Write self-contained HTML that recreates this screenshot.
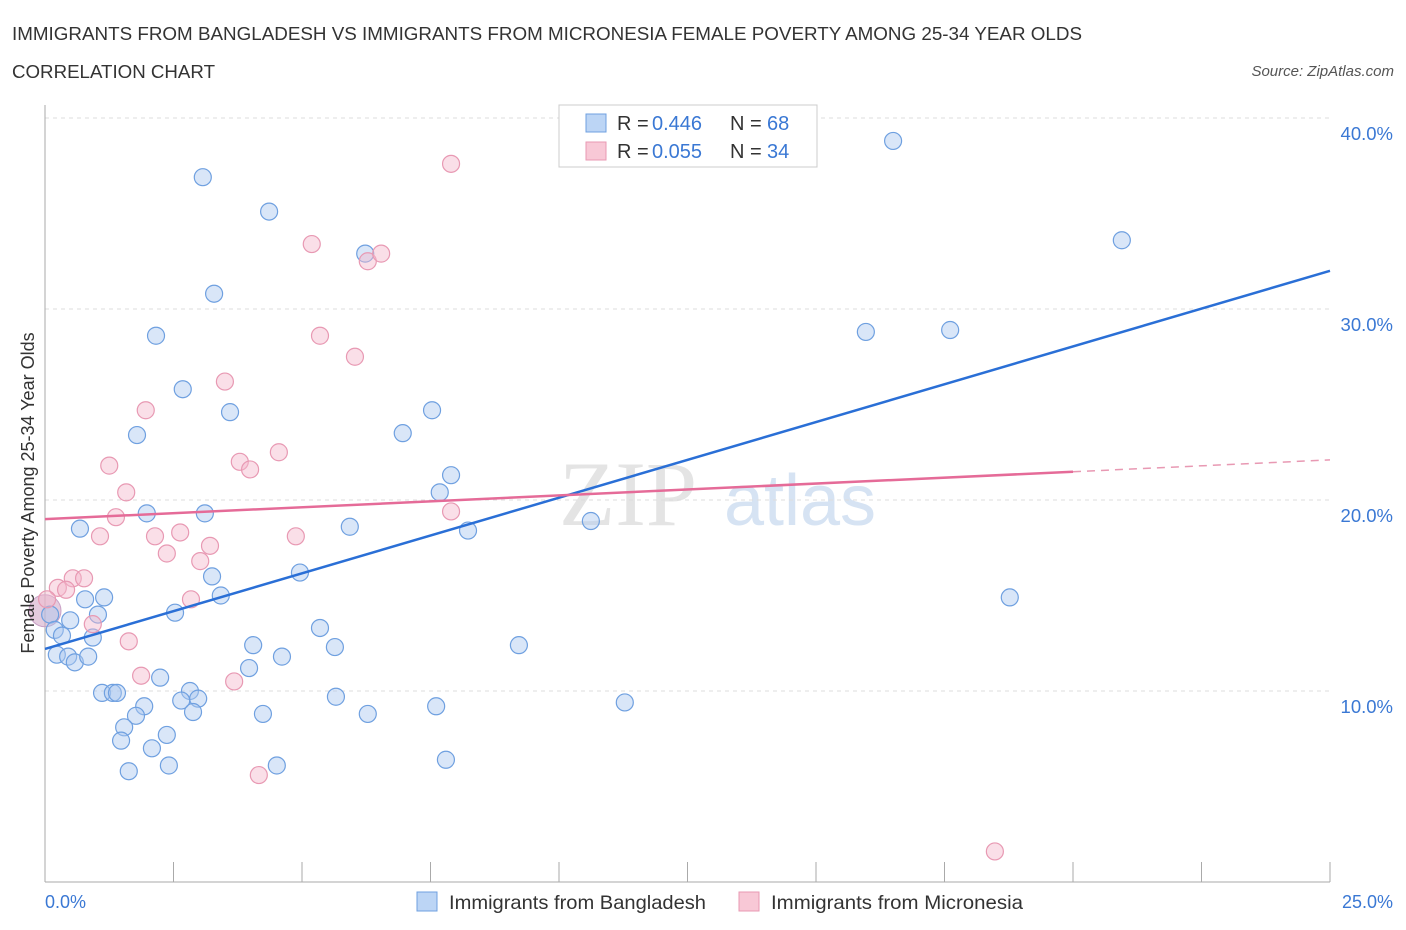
<!DOCTYPE html>
<html><head><meta charset="utf-8"><style>
body{margin:0;background:#fff;font-family:"Liberation Sans",sans-serif;}
svg{display:block}
</style></head><body>
<svg id="chart" width="1406" height="930" xmlns="http://www.w3.org/2000/svg">
<text x="12" y="40" font-size="18" fill="#333" textLength="1070" lengthAdjust="spacingAndGlyphs">IMMIGRANTS FROM BANGLADESH VS IMMIGRANTS FROM MICRONESIA FEMALE POVERTY AMONG 25-34 YEAR OLDS</text>
<text x="12" y="78" font-size="18" fill="#333" textLength="203" lengthAdjust="spacingAndGlyphs">CORRELATION CHART</text>
<text x="1394" y="76" font-size="15" fill="#555" font-style="italic" text-anchor="end">Source: ZipAtlas.com</text>
<g>
<text x="628" y="525" font-size="92" fill="#e4e4e4" font-family="Liberation Serif,serif" text-anchor="middle">ZIP</text>
<text x="800" y="525" font-size="72" fill="#d6e3f3" text-anchor="middle">atlas</text>
</g>
<g id="grid"></g>
<g id="axes"></g>
<g id="pts"></g>
<g id="lines"></g>
<g>
<rect x="559" y="105" width="258" height="62" fill="#fff" stroke="#ccc"/>
<rect x="586" y="114" width="20" height="18" fill="#bcd5f5" stroke="#6fa0e0"/>
<text x="617" y="130" font-size="20" fill="#333">R = </text><text x="652" y="130" font-size="20" fill="#3a78d4">0.446</text>
<text x="730" y="130" font-size="20" fill="#333">N = </text><text x="767" y="130" font-size="20" fill="#3a78d4">68</text>
<rect x="586" y="142" width="20" height="18" fill="#f8c8d6" stroke="#e899b3"/>
<text x="617" y="158" font-size="20" fill="#333">R = </text><text x="652" y="158" font-size="20" fill="#3a78d4">0.055</text>
<text x="730" y="158" font-size="20" fill="#333">N = </text><text x="767" y="158" font-size="20" fill="#3a78d4">34</text>
</g>
<g>
<rect x="417" y="892" width="20" height="19" fill="#bcd5f5" stroke="#6fa0e0"/>
<text x="449" y="909" font-size="19.5" fill="#333" textLength="257" lengthAdjust="spacingAndGlyphs">Immigrants from Bangladesh</text>
<rect x="739" y="892" width="20" height="19" fill="#f8c8d6" stroke="#e899b3"/>
<text x="771" y="909" font-size="19.5" fill="#333" textLength="252" lengthAdjust="spacingAndGlyphs">Immigrants from Micronesia</text>
</g>
<text x="45" y="908" font-size="18" fill="#3a78d4">0.0%</text>
<text x="1393" y="908" font-size="18" fill="#3a78d4" text-anchor="end">25.0%</text>
<text transform="translate(34,493) rotate(-90)" font-size="18" fill="#333" text-anchor="middle">Female Poverty Among 25-34 Year Olds</text>
</svg>
<script>
const blueX=[3.07,4.36,3.29,2.16,6.23,2.68,3.6,1.79,6.96,7.53,7.9,7.68,1.98,3.11,0.68,5.93,8.23,10.62,3.25,4.96,3.42,1.15,0.78,1.03,2.53,0.49,0.1,0.19,0.33,0.93,5.35,4.05,5.64,4.61,0.23,0.45,0.58,0.84,3.97,2.24,1.11,1.32,1.4,2.82,2.98,2.65,5.66,1.93,2.88,1.77,4.24,6.28,7.61,1.54,1.48,2.37,2.08,1.63,2.41,4.51,7.8,9.22,11.28,15.97,17.61,16.5,20.95,18.77];
const blueY=[36.9,35.1,30.8,28.6,32.9,25.8,24.6,23.4,23.5,24.7,21.3,20.4,19.3,19.3,18.5,18.6,18.4,18.9,16.0,16.2,15.0,14.9,14.8,14.0,14.1,13.7,14.0,13.2,12.9,12.8,13.3,12.4,12.3,11.8,11.9,11.8,11.5,11.8,11.2,10.7,9.9,9.9,9.9,10.0,9.6,9.5,9.7,9.2,8.9,8.7,8.8,8.8,9.2,8.1,7.4,7.7,7.0,5.8,6.1,6.1,6.4,12.4,9.4,28.8,28.9,38.8,33.6,14.9];
const pinkX=[7.9,5.19,6.28,6.54,5.35,6.03,3.5,1.96,1.25,3.79,3.99,4.55,1.58,1.38,1.07,2.14,2.63,2.37,3.21,3.02,4.88,7.9,0.54,0.76,0.25,0.41,0.04,2.84,0.93,1.63,1.87,3.68,4.16,18.48];
const pinkY=[37.6,33.4,32.5,32.9,28.6,27.5,26.2,24.7,21.8,22.0,21.6,22.5,20.4,19.1,18.1,18.1,18.3,17.2,17.6,16.8,18.1,19.4,15.9,15.9,15.4,15.3,14.8,14.8,13.5,12.6,10.8,10.5,5.6,1.6];
const blueTrend=[12.2,32.0];
const pinkTrend=[19.0,22.1];
const yTicks=[10,20,30,40];
const yTickLabels=["10.0%","20.0%","30.0%","40.0%"];
const xTicks=[0,2.5,5,7.5,10,12.5,15,17.5,20,22.5,25];

const NS="http://www.w3.org/2000/svg";
const X=v=>45+v*51.4, Y=v=>882-v*19.1;
function mk(t,a,p){const e=document.createElementNS(NS,t);for(const k in a)e.setAttribute(k,a[k]);p.appendChild(e);return e;}
const grid=document.getElementById('grid'),axes=document.getElementById('axes'),pts=document.getElementById('pts'),lines=document.getElementById('lines');
yTicks.forEach((v,i)=>{
 const l=mk('line',{x1:45,x2:1330,y1:Y(v),y2:Y(v),stroke:'#ddd','stroke-dasharray':'4,4'},grid);
 
 
 const t=mk('text',{x:1393,y:Y(v)+22,'font-size':18.5,fill:'#3a78d4','text-anchor':'end'},grid);
 t.textContent=yTickLabels[i];
 
 
});
const ya=mk('line',{x1:45,x2:45,y1:105,y2:882,stroke:'#aaa'},axes);


const xa=mk('line',{x1:45,x2:1330,y1:882,y2:882,stroke:'#aaa'},axes);


xTicks.forEach(v=>{
 const t=mk('line',{x1:X(v),x2:X(v),y1:862,y2:882,stroke:'#aaa'},axes);
 
 
});
const big=mk('circle',{cx:X(0),cy:Y(14.2),r:16,fill:'rgba(210,170,200,0.6)',stroke:'#c9a0c6'},pts);


blueX.forEach((x,i)=>{
 const c=mk('circle',{cx:X(x),cy:Y(blueY[i]),r:8.5,fill:'rgba(170,200,240,0.45)',stroke:'#6fa0e0','stroke-width':1.2},pts);
 
 
});
pinkX.forEach((x,i)=>{
 const c=mk('circle',{cx:X(x),cy:Y(pinkY[i]),r:8.5,fill:'rgba(245,185,205,0.45)',stroke:'#e899b3','stroke-width':1.2},pts);
 
 
});
const bl=mk('line',{x1:X(0),y1:Y(blueTrend[0]),x2:X(25),y2:Y(blueTrend[1]),stroke:'#2a6fd6','stroke-width':2.5},lines);


const pm=pinkTrend[0]+(pinkTrend[1]-pinkTrend[0])*0.8;
const pl=mk('line',{x1:X(0),y1:Y(pinkTrend[0]),x2:X(20),y2:Y(pm),stroke:'#e56b98','stroke-width':2.5},lines);


const pd=mk('line',{x1:X(20),y1:Y(pm),x2:X(25),y2:Y(pinkTrend[1]),stroke:'#e899b3','stroke-width':1.5,'stroke-dasharray':'8,6'},lines);


</script>
</body></html>
